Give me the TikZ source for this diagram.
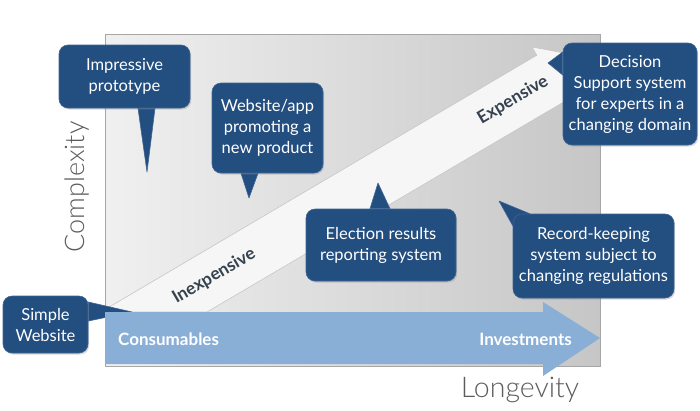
\documentclass[tikz,border=0pt]{standalone}
\usepackage{fontspec}
\setmainfont{Lato}
\newfontfamily\lightfont{Lato Light}
\usetikzlibrary{shadows,calc}
\pgfdeclarelayer{back}
\pgfdeclarelayer{mid}
\pgfsetlayers{back,mid,main}
\definecolor{bubble}{HTML}{234E80}
\definecolor{bubbleedge}{HTML}{3F6596}
\definecolor{lightblue}{HTML}{8AAFD6}
\definecolor{arrowtext}{HTML}{36424F}
\definecolor{axistext}{HTML}{5C5C5C}
\definecolor{paneleft}{HTML}{F0F0F0}
\definecolor{paneright}{HTML}{C6C6C6}
\definecolor{bandfill}{HTML}{F6F6F6}
\begin{document}
\begin{tikzpicture}[x=1pt,y=-1pt,
  bubblebox/.style={fill=bubble, draw=bubbleedge, line width=0.6pt, rounded corners=9pt,
    inner sep=0pt, text=white, align=center, font=\fontsize{16.5}{21}\selectfont,
    drop shadow={opacity=0.3, shadow xshift=1.2pt, shadow yshift=-1.5pt}},
  pointer/.style={fill=bubble, draw=bubbleedge, line width=0.6pt, line join=round},
  bandlabel/.style={font=\bfseries\fontsize{17.5}{20}\selectfont, text=arrowtext, rotate=30.5},
  bluelabel/.style={font=\bfseries\fontsize{17}{20}\selectfont, text=white, inner sep=0pt},
  axislabel/.style={font=\lightfont\fontsize{27}{30}\selectfont, text=axistext}
]
\useasboundingbox (0,0) rectangle (700,410);

% bubbles
\node[bubblebox, minimum width=131pt, minimum height=63pt] (imp) at (124.5,76.5) {Impressive\\prototype};
\node[bubblebox, minimum width=111pt, minimum height=90pt] (web) at (267.5,128) {Website/app\\promoting a\\new product};
\node[bubblebox, minimum width=134pt, minimum height=102pt] (dec) at (630,94) {Decision\\Support system\\for experts in a\\changing domain};
\node[bubblebox, minimum width=150pt, minimum height=72pt] (ele) at (381,245) {Election results\\reporting system};
\node[bubblebox, minimum width=161pt, minimum height=84pt] (rec) at (593.5,256) {Record-keeping\\system subject to\\changing regulations};
\node[bubblebox, minimum width=85pt, minimum height=57pt] (sim) at (45.5,324.5) {Simple\\Website};

% pointer tips
\coordinate (impTip) at (147,172);
\coordinate (webTip) at (249,198);
\coordinate (decTip) at (548,63);
\coordinate (eleTip) at (378,183);
\coordinate (recTip) at (499,201);
\coordinate (simTip) at (132,312);

\begin{pgfonlayer}{mid}
\filldraw[pointer] ([xshift=13.5pt]imp.south) -- (impTip) -- ([xshift=30.5pt]imp.south) -- cycle;
\filldraw[pointer] ([xshift=-26.5pt]web.south) -- (webTip) -- ([xshift=-9.5pt]web.south) -- cycle;
\filldraw[pointer] ([yshift=42pt]dec.west) -- (decTip) -- ([yshift=19pt]dec.west) -- cycle;
\filldraw[pointer] ([xshift=-11pt]ele.north) -- (eleTip) -- ([xshift=9pt]ele.north) -- cycle;
\filldraw[pointer] ([xshift=17pt]rec.north west) -- (recTip) -- ([yshift=-12pt]rec.north west) -- cycle;
\end{pgfonlayer}

\begin{pgfonlayer}{back}
% panel
\shade[left color=paneleft, right color=paneright, draw=gray!70, line width=0.7pt] (105,34) rectangle (600,366);
% diagonal arrow
\filldraw[fill=bandfill, draw=gray!45, line width=0.6pt, line join=miter]
  (105,309.5) -- (536.8,55.2) -- (532,47) -- (586.7,57.2) -- (569,109.9) -- (564.2,101.7) -- (207,312) -- (105,312) -- cycle;
% simple website pointer (under the blue arrow)
\filldraw[pointer] ([yshift=22.5pt]sim.east) -- (simTip) -- ([yshift=3.5pt]sim.east) -- cycle;
% blue arrow
\fill[lightblue] (105,312) -- (543,312) -- (543,302) -- (600,338) -- (543,376) -- (543,364) -- (105,364) -- cycle;
\end{pgfonlayer}

\node[bluelabel, anchor=west] (cons) at (118,339) {Consumables};
\node[bluelabel, anchor=east] (inv) at (572,339) {Investments};
\node[bandlabel] (inex) at (214,276) {Inexpensive};
\node[bandlabel] (expe) at (513,100) {Expensive};
\node[axislabel, rotate=90] (cpx) at (77,187) {Complexity};
\node[axislabel, font=\lightfont\fontsize{28.5}{30}\selectfont] (lon) at (520,390) {Longevity};
\end{tikzpicture}
\end{document}
